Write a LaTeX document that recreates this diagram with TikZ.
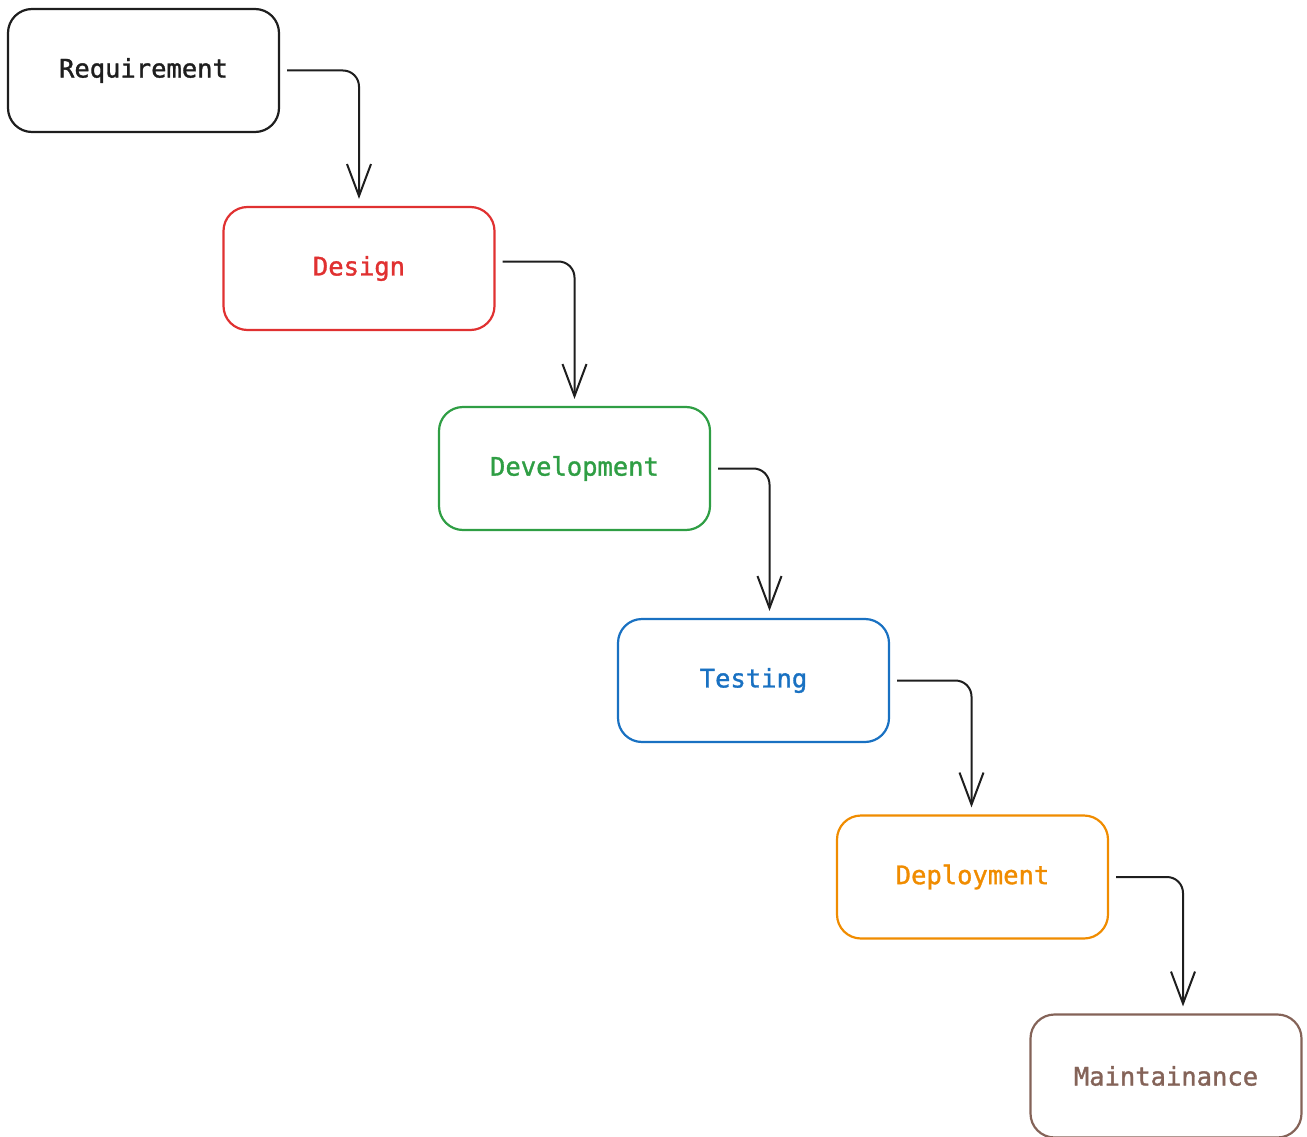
\documentclass[tikz,border=0pt]{standalone}
\usepackage{fontspec}
\newfontfamily\labelfont[FakeBold=1.3]{DejaVu Sans Mono}
\usetikzlibrary{arrows.meta}
\definecolor{inkblack}{HTML}{1E1E1E}
\definecolor{inkred}{HTML}{E03131}
\definecolor{inkgreen}{HTML}{2F9E44}
\definecolor{inkblue}{HTML}{1971C2}
\definecolor{inkorange}{HTML}{F08C00}
\definecolor{inkbrown}{HTML}{846358}
\tikzset{
  phase/.style={draw=#1, text=#1, line width=2.2pt, rounded corners=24pt,
    minimum width=271pt, minimum height=123pt, inner sep=0pt,
    font=\labelfont\fontsize{25.5}{30}\selectfont},
  flow/.style={draw=inkblack, line width=2pt, rounded corners=16pt,
    -{Straight Barb[length=32pt,width=24pt,line width=2pt]},
    shorten <=7pt, shorten >=7pt}
}
\begin{document}
\begin{tikzpicture}[x=1pt,y=-1pt]
\useasboundingbox (0,0) rectangle (1307,1137);
\node[phase=inkblack]  (req) at (143.5,70.5)  {Requirement};
\node[phase=inkred]    (des) at (359,268.5)   {Design};
\node[phase=inkgreen]  (dev) at (574.5,468.5) {Development};
\node[phase=inkblue]   (tst) at (753.5,680.5) {Testing};
\node[phase=inkorange] (dep) at (972.5,877)   {Deployment};
\node[phase=inkbrown]  (mnt) at (1166,1076)   {Maintainance};

\draw[flow] (req.east) -| (des.north);
\draw[flow] ([yshift=7pt]des.east) -| (dev.north);
\draw[flow] (dev.east) -| ([xshift=16pt]tst.north);
\draw[flow] (tst.east) -| ([xshift=-1pt]dep.north);
\draw[flow] (dep.east) -| ([xshift=17pt]mnt.north);
\end{tikzpicture}
\end{document}
